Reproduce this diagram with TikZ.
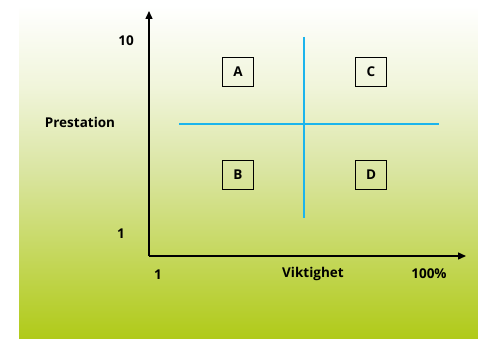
\documentclass[tikz,border=0pt]{standalone}
\usepackage{fontspec}
\setmainfont{Open Sans}
\usetikzlibrary{arrows.meta}
\definecolor{bggreen}{HTML}{B0CA18}
\definecolor{bgmid}{HTML}{DAE5A2}
\definecolor{qblue}{HTML}{1CB4EC}
\begin{document}
\begin{tikzpicture}[x=1pt,y=-1pt,
  lbl/.style={font=\bfseries\fontsize{13.5}{15}\selectfont, inner sep=0pt},
  quad/.style={draw, line width=1.3pt, minimum width=31pt, minimum height=29pt, font=\bfseries\fontsize{13.5}{15}\selectfont},
  axis/.style={line width=1.4pt, -{Triangle[length=8pt,width=7pt]}},
  split/.style={qblue, line width=1.2pt}]
\useasboundingbox (0,0) rectangle (478,339);
\fill[white] (0,0) rectangle (478,339);
\shade[top color=white, bottom color=bgmid, middle color=white!60!bgmid] (19,5) rectangle (478,170);
\shade[top color=bgmid, bottom color=bggreen] (19,170) rectangle (478,339);
\fill[white] (19,0) rectangle (478,5);
% axes
\coordinate (O) at (149,256);
\coordinate (ytip) at (149,11);
\coordinate (xtip) at (466,256);
\draw[axis] (O) -- (ytip);
\draw[axis] (O) -- (xtip);
% split lines
\coordinate (hl) at (179,124);
\coordinate (hr) at (439,124);
\coordinate (vt) at (304,37);
\coordinate (vb) at (304,218);
\draw[split] (hl) -- (hr);
\draw[split] (vt) -- (vb);
% boxes
\node[quad] (A) at (238,72) {A};
\node[quad] (C) at (371,72) {C};
\node[quad] (B) at (238,175) {B};
\node[quad] (D) at (371,175) {D};
% labels
\node[lbl] (y10) at (126,41) {10};
\node[lbl] (ylab) at (80,122) {Prestation};
\node[lbl] (y1) at (121,234) {1};
\node[lbl] (x1) at (158,275) {1};
\node[lbl] (xlab) at (313,274) {Viktighet};
\node[lbl] (x100) at (429,274) {100\%};
\end{tikzpicture}
\end{document}
